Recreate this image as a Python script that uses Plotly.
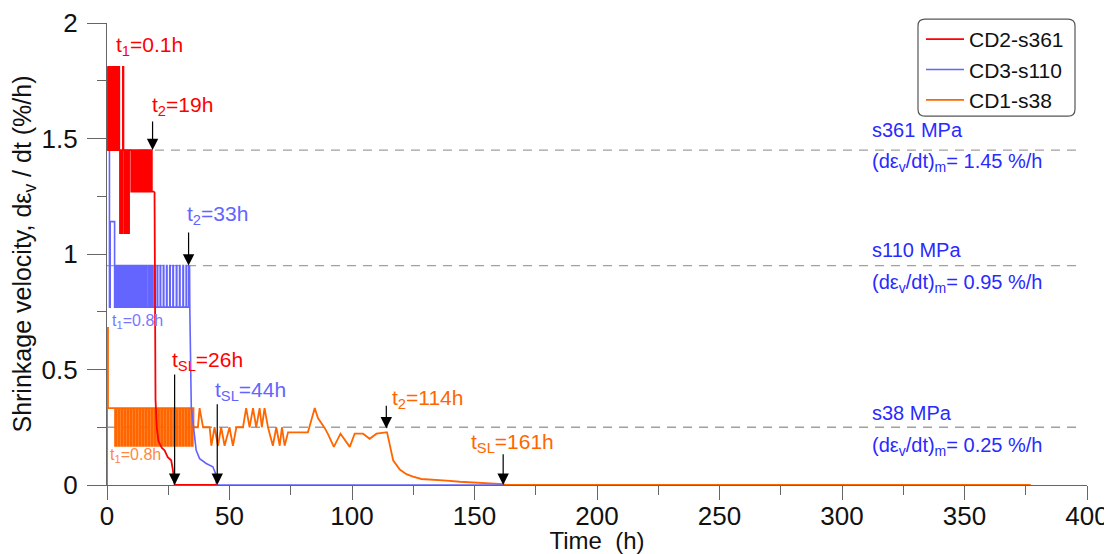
import plotly.graph_objects as go

# ---------------- data ----------------
# dashed plateau levels (%/h)
plateau_levels = [1.45, 0.95, 0.25]
plateau_t = [0, 397]

# CD2-s361 (red): stepped part as blocks of toggle times with the two levels
red_blocks_t = [
    [0.1, 0.4, 0.6, 0.9, 1.2, 1.4, 1.7, 2.0, 2.2, 2.5, 2.8, 3.0, 3.3, 3.6, 3.8, 4.1, 4.3, 4.6],
    [4.8, 5.0],
    [5.3, 5.6, 5.9, 6.2],
    [6.5, 6.7],
    [7.0, 7.3, 7.6, 7.9, 8.2, 8.5, 8.8, 9.0],
    [9.9, 10.2, 10.5, 10.8, 11.1, 11.4, 11.7, 12.0, 12.3, 12.6, 12.9, 13.2,
     13.5, 13.8, 14.1, 14.4, 14.7, 15.0, 15.3, 15.6, 15.9, 16.2, 16.5, 16.8],
    [17.1, 17.6, 17.8, 18.2, 18.3],
]
red_blocks_levels = [(1.81, 1.45), (1.81, 1.45), (1.09, 1.45), (1.81, 1.45),
                     (1.09, 1.45), (1.27, 1.45), (1.27, 1.45)]
red_fall_t = [19.4, 19.6, 19.8, 20.3, 21.0, 22.4, 23.5, 24.8, 26.2, 26.9, 27.6, 44.8]
red_fall_v = [1.27, 0.9, 0.37, 0.25, 0.19, 0.16, 0.15, 0.12, 0.107, 0.064, 0.0, 0.0]

# CD3-s110 (blue)
blue_blocks_t = [
    [0.2, 1.0, 1.3, 3.1],
    [3.4, 3.8, 4.1, 4.5, 4.8, 5.2, 5.5, 5.9, 6.2, 6.6, 6.9, 7.3, 7.6, 8.0, 8.3, 8.7,
     9.0, 9.4, 9.7, 10.1, 10.4, 10.8, 11.1, 11.5, 11.8, 12.2, 12.5, 12.9, 13.2, 13.6,
     13.9, 14.3, 14.6, 15.0, 15.3, 15.7, 16.0, 16.3],
    [17.0, 17.2, 17.8, 18.0, 18.6, 18.8, 19.5, 19.7, 20.5, 20.7, 21.7, 21.9, 23.0, 23.2,
     24.3, 24.5, 25.6, 25.8, 26.9, 27.1, 28.3, 28.5, 29.6, 29.8, 31.0, 31.2, 32.3, 32.5, 33.4],
]
blue_blocks_levels = [(1.52, 0.77, 1.14, 0.77), (0.95, 0.77), (0.95, 0.77)]
blue_fall_t = [33.7, 33.8, 34.4, 35.1, 36.4, 37.8, 40.5, 43.2, 44.3, 44.6, 44.8, 162.0]
blue_fall_v = [0.95, 0.765, 0.336, 0.265, 0.15, 0.114, 0.093, 0.079, 0.05, 0.007, 0.0, 0.0]

# CD1-s38 (orange)
orange_blocks_t = [
    [0.0, 0.05, 0.4],
    [3.3, 3.75, 4.55, 5.0, 5.8, 6.25, 7.05, 7.5, 8.3, 8.75, 9.55, 10.0, 10.8, 11.25,
     12.05, 12.5, 13.3, 13.75, 14.55, 15.0, 15.8, 16.25, 17.05, 17.5, 18.3, 18.75,
     19.55, 20.0, 20.8, 21.25, 22.05, 22.5, 23.3, 23.75, 24.55, 25.0, 25.8, 26.25,
     27.05, 27.5, 28.3, 28.75, 29.55, 30.0, 30.8, 31.25, 32.05, 32.5, 33.3, 33.75,
     34.55, 35.0],
]
orange_blocks_levels = [(0.0, 0.68, 0.333), (0.17, 0.333)]
orange_t = [35.3, 37.1, 37.8, 39.2, 41.9, 42.6, 43.9, 45.3, 46.6, 48.0, 50.0, 51.4, 52.8,
            55.5, 56.8, 58.2, 59.6, 60.9, 62.3, 63.2, 64.3, 65.7, 67.7, 69.1, 70.5, 71.4,
            72.5, 73.9, 82.0, 84.8, 86.1, 87.5, 88.9, 90.2, 92.6, 95.3, 99.1, 101.1, 104.5,
            107.2, 110.0, 113.8, 114.3, 116.8, 119.5, 122.2, 124.9, 128.3, 133.1, 138.6,
            144.0, 150.8, 157.6, 161.7, 163.0, 377.0]
orange_v = [0.25, 0.25, 0.333, 0.25, 0.25, 0.17, 0.25, 0.17, 0.25, 0.17, 0.25, 0.17, 0.25,
            0.25, 0.333, 0.25, 0.333, 0.25, 0.333, 0.25, 0.333, 0.25, 0.17, 0.25, 0.17, 0.25,
            0.17, 0.228, 0.228, 0.333, 0.29, 0.27, 0.246, 0.22, 0.165, 0.222, 0.165, 0.222,
            0.222, 0.2, 0.222, 0.228, 0.228, 0.107, 0.067, 0.047, 0.036, 0.026, 0.024, 0.019,
            0.014, 0.011, 0.008, 0.004, 0.0, 0.0]

series_names = ["CD2-s361", "CD3-s110", "CD1-s38"]

# arrows: time, start value, tip value
arrow_t = [18.6, 33.3, 27.6, 45.0, 114.0, 161.7]
arrow_from = [1.58, 1.10, 0.485, 0.356, 0.35, 0.14]
arrow_to = [1.45, 0.95, 0.0, 0.0, 0.245, 0.0]

# ---------------- styling ----------------
FONT = "Liberation Sans, Arial, sans-serif"
RED = "#ff0000"
BLUE = "#6464ff"
ORANGE = "#ff6600"
DARKBLUE = "#2a2aff"
AXIS = "#666666"

# page body adds an 8px offset, so the figure is sized to the visible area
OFF = 8
W, H = 1112 - OFF, 554 - OFF
ML, MR, MT, MB = 107 - OFF, 25, 19 - OFF, 69


def build_steps(blocks_t, blocks_levels, end_t, end_v):
    T, V = [], []
    for times, levels in zip(blocks_t, blocks_levels):
        for i, t in enumerate(times):
            T.append(t)
            V.append(levels[i % len(levels)])
    T.append(end_t)
    V.append(end_v)
    return T, V


fig = go.Figure()

for lvl in plateau_levels:
    fig.add_trace(go.Scatter(x=plateau_t, y=[lvl, lvl], mode="lines",
                             line=dict(color="#a0a0a0", width=1.3, dash="9px,7px"),
                             showlegend=False, hoverinfo="skip"))

specs = [
    ("CD1-s38", ORANGE, 1.8, orange_blocks_t, orange_blocks_levels, orange_t, orange_v, 3),
    ("CD3-s110", BLUE, 1.6, blue_blocks_t, blue_blocks_levels, blue_fall_t, blue_fall_v, 2),
    ("CD2-s361", RED, 1.8, red_blocks_t, red_blocks_levels, red_fall_t, red_fall_v, 1),
]
for name, col, lw, bt, bl, lt, lv, rank in specs:
    T, V = build_steps(bt, bl, lt[0], lv[0])
    fig.add_trace(go.Scatter(x=T, y=V, mode="lines", line=dict(color=col, width=lw, shape="hv"),
                             name=name, legendgroup=name, legendrank=rank,
                             cliponaxis=False, hoverinfo="skip"))
    fig.add_trace(go.Scatter(x=lt, y=lv, mode="lines", line=dict(color=col, width=lw),
                             name=name, legendgroup=name, showlegend=False,
                             cliponaxis=False, hoverinfo="skip"))

# text labels (text, x, y, color, size, anchor)
labels = [
    ("t<sub>1</sub>=0.1h", 17.4, 1.90, RED, 21, "center"),
    ("t<sub>2</sub>=19h", 31.0, 1.64, RED, 21, "center"),
    ("t<sub>2</sub>=33h", 45.1, 1.167, BLUE, 21, "center"),
    ("t<sub>1</sub>=0.8h", 12.3, 0.708, "#7878ff", 16, "center"),
    ("t<sub>SL</sub>=26h", 41.0, 0.536, RED, 21, "center"),
    ("t<sub>SL</sub>=44h", 58.6, 0.408, BLUE, 21, "center"),
    ("t<sub>2</sub>=114h", 130.7, 0.373, ORANGE, 21, "center"),
    ("t<sub>SL</sub>=161h", 165.4, 0.18, ORANGE, 21, "center"),
    ("t<sub>1</sub>=0.8h", 11.8, 0.129, "#ff8840", 16, "center"),
    ("s361 MPa", 311.5, 1.536, DARKBLUE, 20, "left"),
    ("(dε<sub>v</sub>/dt)<sub>m</sub>= 1.45 %/h", 311.5, 1.395, DARKBLUE, 20, "left"),
    ("s110 MPa", 311.5, 1.017, DARKBLUE, 20, "left"),
    ("(dε<sub>v</sub>/dt)<sub>m</sub>= 0.95 %/h", 311.5, 0.871, DARKBLUE, 20, "left"),
    ("s38 MPa", 311.5, 0.313, DARKBLUE, 20, "left"),
    ("(dε<sub>v</sub>/dt)<sub>m</sub>= 0.25 %/h", 311.5, 0.167, DARKBLUE, 20, "left"),
]
annotations = []
for txt, x, y, col, sz, anc in labels:
    annotations.append(dict(text=txt, x=x, y=y, xref="x", yref="y", showarrow=False,
                            xanchor=anc, yanchor="middle",
                            font=dict(family=FONT, size=sz, color=col)))
for t, a, b in zip(arrow_t, arrow_from, arrow_to):
    annotations.append(dict(text="", x=t, y=b, ax=t, ay=a, xref="x", yref="y",
                            axref="x", ayref="y", showarrow=True, arrowhead=2,
                            arrowsize=1.9, arrowwidth=1.2, arrowcolor="black", standoff=0))

# rounded legend frame (screen pixel geometry -> paper coordinates)
pw, ph = W - ML - MR, H - MT - MB
def px2p(xp, yp):
    return (xp - OFF - ML) / pw, (H - MB - (yp - OFF)) / ph
lx0, ly0, lx1, ly1, rr = 918, 15, 1075, 113, 7
def P(x, y):
    a, b = px2p(x, y)
    return f"{a:.5f},{b:.5f}"
path = (f"M{P(lx0 + rr, ly0)} L{P(lx1 - rr, ly0)} Q{P(lx1, ly0)} {P(lx1, ly0 + rr)} "
        f"L{P(lx1, ly1 - rr)} Q{P(lx1, ly1)} {P(lx1 - rr, ly1)} "
        f"L{P(lx0 + rr, ly1)} Q{P(lx0, ly1)} {P(lx0, ly1 - rr)} "
        f"L{P(lx0, ly0 + rr)} Q{P(lx0, ly0)} {P(lx0 + rr, ly0)} Z")
lgx, lgy = px2p(921, 15)

axis_common = dict(showline=True, linecolor=AXIS, linewidth=1.3, ticks="outside",
                   tickwidth=1.3, tickcolor=AXIS, showgrid=False,
                   zeroline=False, layer="below traces", automargin=False,
                   ticklabeloverflow="allow",
                   tickfont=dict(family=FONT, size=26, color="#111111"))

fig.update_layout(
    width=W, height=H,
    margin=dict(l=ML, r=MR, t=MT, b=MB),
    paper_bgcolor="white", plot_bgcolor="white",
    font=dict(family=FONT, color="#111111"),
    xaxis=dict(range=[0, 400], tick0=0, dtick=50, ticklen=14, ticklabelstandoff=-6,
               minor=dict(dtick=25, ticklen=9, tickwidth=1.3, tickcolor=AXIS,
                          ticks="outside", showgrid=False),
               title=dict(text="Time\u00a0\u00a0(h)", font=dict(family=FONT, size=24),
                          standoff=2),
               **axis_common),
    yaxis=dict(range=[0, 2], tick0=0, dtick=0.5, ticklen=19, ticklabelstandoff=4,
               minor=dict(dtick=0.25, ticklen=9, tickwidth=1.3, tickcolor=AXIS,
                          ticks="outside", showgrid=False),
               title=dict(text="Shrinkage velocity, dε<sub>v</sub> / dt (%/h)",
                          font=dict(family=FONT, size=25), standoff=8),
               **axis_common),
    legend=dict(x=lgx, y=lgy, xanchor="left", yanchor="top", bgcolor="rgba(0,0,0,0)",
                borderwidth=0, font=dict(family=FONT, size=21, color="#111111"),
                tracegroupgap=0, itemwidth=38),
    shapes=[dict(type="path", path=path, xref="paper", yref="paper",
                 line=dict(color="#555555", width=1.2), fillcolor="rgba(0,0,0,0)")],
    annotations=annotations,
    showlegend=True,
)

fig.write_html("out.html")
